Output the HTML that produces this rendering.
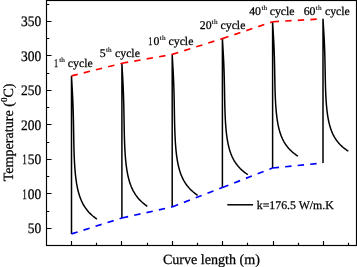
<!DOCTYPE html>
<html><head><meta charset="utf-8"><style>
html,body{margin:0;padding:0;background:#fff;width:357px;height:267px;overflow:hidden}
svg{display:block;will-change:transform}
text{font-family:"Liberation Serif",serif;fill:#000;stroke:#000;stroke-width:0.25px;text-rendering:geometricPrecision}
.t{font-size:14.5px}
.c{font-size:11.8px}
.s{font-size:6.6px;stroke-width:0.12px}
.a{font-size:14.1px}
.s2{font-size:9px}
</style></head><body>
<svg width="357" height="267" viewBox="0 0 357 267">
<rect x="46.5" y="0.5" width="310" height="245" fill="none" stroke="#000" stroke-width="1.15"/>
<path d="M46.5 228.50h5.0 M46.5 211.50h2.8 M46.5 193.50h5.0 M46.5 176.50h2.8 M46.5 159.50h5.0 M46.5 142.50h2.8 M46.5 124.50h5.0 M46.5 107.50h2.8 M46.5 90.50h5.0 M46.5 73.50h2.8 M46.5 55.50h5.0 M46.5 38.50h2.8 M46.5 21.50h5.0 M46.5 4.50h2.8 M71.50 245.5v-4.6 M96.50 245.5v-2.8 M121.50 245.5v-4.6 M147.50 245.5v-2.8 M172.50 245.5v-4.6 M197.50 245.5v-2.8 M222.50 245.5v-4.6 M247.50 245.5v-2.8 M273.50 245.5v-4.6 M298.50 245.5v-2.8 M323.50 245.5v-4.6 M348.50 245.5v-2.8" stroke="#000" stroke-width="1.15" fill="none"/>
<text transform="translate(41.3 233.25) scale(0.93 1)" text-anchor="end" class="t">50</text>
<text transform="translate(41.3 198.75) scale(0.93 1)" text-anchor="end" class="t">00</text>
<text transform="translate(24.64 198.75) scale(0.632 1) translate(-3.840 0)" class="t">1</text>
<text transform="translate(41.3 164.25) scale(0.93 1)" text-anchor="end" class="t">50</text>
<text transform="translate(24.64 164.25) scale(0.632 1) translate(-3.840 0)" class="t">1</text>
<text transform="translate(41.3 129.75) scale(0.93 1)" text-anchor="end" class="t">200</text>
<text transform="translate(41.3 95.25) scale(0.93 1)" text-anchor="end" class="t">250</text>
<text transform="translate(41.3 60.75) scale(0.93 1)" text-anchor="end" class="t">300</text>
<text transform="translate(41.3 26.25) scale(0.93 1)" text-anchor="end" class="t">350</text>
<path d="M71.50 233.90V75.90 M71.50 75.90 L71.54 76.62 L71.58 77.33 L71.61 78.05 L71.65 78.76 L71.69 79.48 L71.73 80.20 L71.77 80.91 L71.81 81.63 L71.85 82.34 L71.89 83.06 L71.93 83.78 L71.97 84.49 L72.01 85.21 L72.05 85.92 L72.09 86.64 L72.13 87.36 L72.17 88.07 L72.21 88.79 L72.25 89.50 L72.29 90.22 L72.33 90.94 L72.37 91.65 L72.41 92.37 L72.44 93.08 L72.48 93.80 L72.52 94.52 L72.55 95.23 L72.59 95.95 L72.62 96.66 L72.66 97.38 L72.69 98.10 L72.72 98.81 L72.76 99.53 L72.79 100.24 L72.82 100.96 L72.85 101.68 L72.88 102.39 L72.91 103.11 L72.94 103.82 L72.97 104.54 L73.00 105.26 L73.02 105.97 L73.05 106.69 L73.07 107.40 L73.10 108.12 L73.12 108.84 L73.15 109.55 L73.17 110.27 L73.19 110.98 L73.21 111.70 L73.23 112.42 L73.26 113.13 L73.27 113.85 L73.29 114.56 L73.31 115.28 L73.33 116.00 L73.35 116.71 L73.37 117.43 L73.38 118.14 L73.40 118.86 L73.41 119.58 L73.43 120.29 L73.44 121.01 L73.46 121.72 L73.47 122.44 L73.49 123.16 L73.50 123.87 L73.51 124.59 L73.53 125.30 L73.54 126.02 L73.55 126.74 L73.56 127.45 L73.58 128.17 L73.59 128.88 L73.60 129.60 L73.61 130.32 L73.62 131.03 L73.64 131.75 L73.65 132.46 L73.66 133.18 L73.67 133.90 L73.68 134.61 L73.70 135.33 L73.71 136.04 L73.72 136.76 L73.73 137.48 L73.74 138.19 L73.76 138.91 L73.77 139.62 L73.78 140.34 L73.80 141.06 L73.81 141.77 L73.83 142.49 L73.84 143.20 L73.86 143.92 L73.87 144.64 L73.89 145.35 L73.91 146.07 L73.92 146.78 L73.94 147.50 L73.96 148.22 L73.98 148.93 L74.00 149.65 L74.02 150.36 L74.04 151.08 L74.06 151.80 L74.08 152.51 L74.11 153.23 L74.13 153.94 L74.16 154.66 L74.18 155.38 L74.21 156.09 L74.24 156.81 L74.27 157.52 L74.30 158.24 L74.33 158.96 L74.37 159.67 L74.40 160.39 L74.44 161.10 L74.47 161.82 L74.51 162.54 L74.55 163.25 L74.59 163.97 L74.64 164.68 L74.68 165.40 L74.73 166.12 L74.78 166.83 L74.83 167.55 L74.88 168.26 L74.93 168.98 L74.99 169.70 L75.05 170.41 L75.11 171.13 L75.17 171.84 L75.23 172.56 L75.30 173.28 L75.37 173.99 L75.44 174.71 L75.52 175.42 L75.60 176.14 L75.68 176.86 L75.76 177.57 L75.85 178.29 L75.94 179.00 L76.04 179.72 L76.14 180.44 L76.24 181.15 L76.35 181.87 L76.46 182.58 L76.57 183.30 L76.69 184.02 L76.82 184.73 L76.95 185.45 L77.08 186.16 L77.22 186.88 L77.37 187.60 L77.52 188.31 L77.68 189.03 L77.84 189.74 L78.01 190.46 L78.19 191.18 L78.38 191.89 L78.57 192.61 L78.77 193.32 L78.98 194.04 L79.20 194.76 L79.43 195.47 L79.67 196.19 L79.91 196.90 L80.17 197.62 L80.44 198.34 L80.72 199.05 L81.02 199.77 L81.32 200.48 L81.64 201.20 L81.98 201.92 L82.33 202.63 L82.69 203.35 L83.07 204.06 L83.47 204.78 L83.89 205.50 L84.32 206.21 L84.78 206.93 L85.26 207.64 L85.76 208.36 L86.28 209.08 L86.83 209.79 L87.40 210.51 L88.00 211.22 L88.63 211.94 L89.29 212.66 L89.98 213.37 L90.71 214.09 L91.47 214.80 L92.27 215.52 L93.11 216.24 L93.99 216.95 L94.91 217.67 L95.88 218.38 L96.90 219.10 M121.90 218.00V63.30 M121.90 63.30 L121.94 64.02 L121.98 64.73 L122.01 65.44 L122.05 66.16 L122.09 66.88 L122.13 67.59 L122.17 68.30 L122.21 69.02 L122.25 69.73 L122.29 70.45 L122.33 71.16 L122.37 71.88 L122.41 72.59 L122.45 73.31 L122.49 74.02 L122.53 74.74 L122.57 75.45 L122.61 76.17 L122.65 76.88 L122.69 77.60 L122.73 78.31 L122.77 79.03 L122.81 79.75 L122.84 80.46 L122.88 81.17 L122.92 81.89 L122.95 82.60 L122.99 83.32 L123.02 84.03 L123.06 84.75 L123.09 85.47 L123.12 86.18 L123.16 86.89 L123.19 87.61 L123.22 88.32 L123.25 89.04 L123.28 89.75 L123.31 90.47 L123.34 91.19 L123.37 91.90 L123.40 92.61 L123.42 93.33 L123.45 94.05 L123.47 94.76 L123.50 95.47 L123.52 96.19 L123.55 96.91 L123.57 97.62 L123.59 98.33 L123.61 99.05 L123.63 99.77 L123.66 100.48 L123.67 101.19 L123.69 101.91 L123.71 102.62 L123.73 103.34 L123.75 104.05 L123.77 104.77 L123.78 105.48 L123.80 106.20 L123.81 106.91 L123.83 107.63 L123.84 108.34 L123.86 109.06 L123.87 109.78 L123.89 110.49 L123.90 111.20 L123.91 111.92 L123.93 112.63 L123.94 113.35 L123.95 114.06 L123.96 114.78 L123.98 115.50 L123.99 116.21 L124.00 116.92 L124.01 117.64 L124.02 118.35 L124.04 119.07 L124.05 119.78 L124.06 120.50 L124.07 121.22 L124.08 121.93 L124.10 122.64 L124.11 123.36 L124.12 124.07 L124.13 124.79 L124.14 125.50 L124.16 126.22 L124.17 126.94 L124.18 127.65 L124.20 128.37 L124.21 129.08 L124.23 129.80 L124.24 130.51 L124.26 131.22 L124.27 131.94 L124.29 132.66 L124.31 133.37 L124.32 134.08 L124.34 134.80 L124.36 135.51 L124.38 136.23 L124.40 136.94 L124.42 137.66 L124.44 138.38 L124.46 139.09 L124.48 139.81 L124.51 140.52 L124.53 141.24 L124.56 141.95 L124.58 142.67 L124.61 143.38 L124.64 144.09 L124.67 144.81 L124.70 145.52 L124.73 146.24 L124.77 146.95 L124.80 147.67 L124.84 148.38 L124.87 149.10 L124.91 149.81 L124.95 150.53 L124.99 151.25 L125.04 151.96 L125.08 152.68 L125.13 153.39 L125.18 154.11 L125.23 154.82 L125.28 155.53 L125.33 156.25 L125.39 156.97 L125.45 157.68 L125.51 158.39 L125.57 159.11 L125.63 159.82 L125.70 160.54 L125.77 161.25 L125.84 161.97 L125.92 162.69 L126.00 163.40 L126.08 164.12 L126.16 164.83 L126.25 165.54 L126.34 166.26 L126.44 166.97 L126.54 167.69 L126.64 168.41 L126.75 169.12 L126.86 169.83 L126.97 170.55 L127.09 171.26 L127.22 171.98 L127.35 172.69 L127.48 173.41 L127.62 174.12 L127.77 174.84 L127.92 175.56 L128.08 176.27 L128.24 176.99 L128.41 177.70 L128.59 178.42 L128.78 179.13 L128.97 179.84 L129.17 180.56 L129.38 181.27 L129.60 181.99 L129.83 182.70 L130.07 183.42 L130.31 184.13 L130.57 184.85 L130.84 185.56 L131.12 186.28 L131.42 187.00 L131.72 187.71 L132.04 188.43 L132.38 189.14 L132.73 189.86 L133.09 190.57 L133.47 191.28 L133.87 192.00 L134.29 192.71 L134.72 193.43 L135.18 194.14 L135.66 194.86 L136.16 195.57 L136.68 196.29 L137.23 197.00 L137.80 197.72 L138.40 198.44 L139.03 199.15 L139.69 199.87 L140.38 200.58 L141.11 201.30 L141.87 202.01 L142.67 202.72 L143.51 203.44 L144.39 204.15 L145.31 204.87 L146.28 205.58 L147.30 206.30 M172.20 206.90V54.40 M172.20 54.40 L172.24 55.10 L172.28 55.81 L172.31 56.51 L172.35 57.22 L172.39 57.92 L172.43 58.63 L172.47 59.33 L172.51 60.04 L172.55 60.74 L172.59 61.45 L172.63 62.15 L172.67 62.85 L172.71 63.56 L172.75 64.26 L172.79 64.97 L172.83 65.67 L172.87 66.38 L172.91 67.08 L172.95 67.79 L172.99 68.49 L173.03 69.19 L173.07 69.90 L173.11 70.60 L173.14 71.31 L173.18 72.01 L173.22 72.72 L173.25 73.42 L173.29 74.13 L173.32 74.83 L173.36 75.53 L173.39 76.24 L173.42 76.94 L173.46 77.65 L173.49 78.35 L173.52 79.06 L173.55 79.76 L173.58 80.47 L173.61 81.17 L173.64 81.88 L173.67 82.58 L173.70 83.28 L173.72 83.99 L173.75 84.69 L173.77 85.40 L173.80 86.10 L173.82 86.81 L173.85 87.51 L173.87 88.22 L173.89 88.92 L173.91 89.62 L173.93 90.33 L173.96 91.03 L173.97 91.74 L173.99 92.44 L174.01 93.15 L174.03 93.85 L174.05 94.56 L174.07 95.26 L174.08 95.97 L174.10 96.67 L174.11 97.37 L174.13 98.08 L174.14 98.78 L174.16 99.49 L174.17 100.19 L174.19 100.90 L174.20 101.60 L174.21 102.31 L174.23 103.01 L174.24 103.72 L174.25 104.42 L174.26 105.12 L174.28 105.83 L174.29 106.53 L174.30 107.24 L174.31 107.94 L174.32 108.65 L174.34 109.35 L174.35 110.06 L174.36 110.76 L174.37 111.46 L174.38 112.17 L174.40 112.87 L174.41 113.58 L174.42 114.28 L174.43 114.99 L174.44 115.69 L174.46 116.40 L174.47 117.10 L174.48 117.81 L174.50 118.51 L174.51 119.21 L174.53 119.92 L174.54 120.62 L174.56 121.33 L174.57 122.03 L174.59 122.74 L174.61 123.44 L174.62 124.15 L174.64 124.85 L174.66 125.55 L174.68 126.26 L174.70 126.96 L174.72 127.67 L174.74 128.37 L174.76 129.08 L174.78 129.78 L174.81 130.49 L174.83 131.19 L174.86 131.90 L174.88 132.60 L174.91 133.30 L174.94 134.01 L174.97 134.71 L175.00 135.42 L175.03 136.12 L175.07 136.83 L175.10 137.53 L175.14 138.24 L175.17 138.94 L175.21 139.64 L175.25 140.35 L175.29 141.05 L175.34 141.76 L175.38 142.46 L175.43 143.17 L175.48 143.87 L175.53 144.58 L175.58 145.28 L175.63 145.99 L175.69 146.69 L175.75 147.39 L175.81 148.10 L175.87 148.80 L175.93 149.51 L176.00 150.21 L176.07 150.92 L176.14 151.62 L176.22 152.33 L176.30 153.03 L176.38 153.73 L176.46 154.44 L176.55 155.14 L176.64 155.85 L176.74 156.55 L176.84 157.26 L176.94 157.96 L177.05 158.67 L177.16 159.37 L177.27 160.08 L177.39 160.78 L177.52 161.48 L177.65 162.19 L177.78 162.89 L177.92 163.60 L178.07 164.30 L178.22 165.01 L178.38 165.71 L178.54 166.42 L178.71 167.12 L178.89 167.82 L179.08 168.53 L179.27 169.23 L179.47 169.94 L179.68 170.64 L179.90 171.35 L180.13 172.05 L180.37 172.76 L180.61 173.46 L180.87 174.16 L181.14 174.87 L181.42 175.57 L181.72 176.28 L182.02 176.98 L182.34 177.69 L182.68 178.39 L183.03 179.10 L183.39 179.80 L183.77 180.51 L184.17 181.21 L184.59 181.91 L185.02 182.62 L185.48 183.32 L185.96 184.03 L186.46 184.73 L186.98 185.44 L187.53 186.14 L188.10 186.85 L188.70 187.55 L189.33 188.25 L189.99 188.96 L190.68 189.66 L191.41 190.37 L192.17 191.07 L192.97 191.78 L193.81 192.48 L194.69 193.19 L195.61 193.89 L196.58 194.60 L197.60 195.30 M222.40 187.50V38.60 M222.40 38.60 L222.44 39.28 L222.48 39.96 L222.51 40.64 L222.55 41.32 L222.59 42.00 L222.63 42.68 L222.67 43.36 L222.71 44.04 L222.75 44.72 L222.79 45.40 L222.83 46.08 L222.87 46.76 L222.91 47.44 L222.95 48.12 L222.99 48.80 L223.03 49.48 L223.07 50.16 L223.11 50.84 L223.15 51.52 L223.19 52.20 L223.23 52.88 L223.27 53.56 L223.31 54.24 L223.34 54.92 L223.38 55.60 L223.42 56.28 L223.45 56.96 L223.49 57.64 L223.52 58.32 L223.56 59.00 L223.59 59.68 L223.62 60.36 L223.66 61.04 L223.69 61.72 L223.72 62.40 L223.75 63.08 L223.78 63.76 L223.81 64.44 L223.84 65.12 L223.87 65.80 L223.90 66.48 L223.92 67.16 L223.95 67.84 L223.97 68.52 L224.00 69.20 L224.02 69.88 L224.05 70.56 L224.07 71.24 L224.09 71.92 L224.11 72.60 L224.13 73.28 L224.16 73.96 L224.17 74.64 L224.19 75.32 L224.21 76.00 L224.23 76.68 L224.25 77.36 L224.27 78.04 L224.28 78.72 L224.30 79.40 L224.31 80.08 L224.33 80.76 L224.34 81.44 L224.36 82.12 L224.37 82.80 L224.39 83.48 L224.40 84.16 L224.41 84.84 L224.43 85.52 L224.44 86.20 L224.45 86.88 L224.46 87.56 L224.48 88.24 L224.49 88.92 L224.50 89.60 L224.51 90.28 L224.52 90.96 L224.54 91.64 L224.55 92.32 L224.56 93.00 L224.57 93.68 L224.58 94.36 L224.60 95.04 L224.61 95.72 L224.62 96.40 L224.63 97.08 L224.64 97.76 L224.66 98.44 L224.67 99.12 L224.68 99.80 L224.70 100.48 L224.71 101.16 L224.73 101.84 L224.74 102.52 L224.76 103.20 L224.77 103.88 L224.79 104.56 L224.81 105.24 L224.82 105.92 L224.84 106.60 L224.86 107.28 L224.88 107.96 L224.90 108.64 L224.92 109.32 L224.94 110.00 L224.96 110.68 L224.98 111.36 L225.01 112.04 L225.03 112.72 L225.06 113.40 L225.08 114.08 L225.11 114.76 L225.14 115.44 L225.17 116.12 L225.20 116.80 L225.23 117.48 L225.27 118.16 L225.30 118.84 L225.34 119.52 L225.37 120.20 L225.41 120.88 L225.45 121.56 L225.49 122.24 L225.54 122.92 L225.58 123.60 L225.63 124.28 L225.68 124.96 L225.73 125.64 L225.78 126.32 L225.83 127.00 L225.89 127.68 L225.95 128.36 L226.01 129.04 L226.07 129.72 L226.13 130.40 L226.20 131.08 L226.27 131.76 L226.34 132.44 L226.42 133.12 L226.50 133.80 L226.58 134.48 L226.66 135.16 L226.75 135.84 L226.84 136.52 L226.94 137.20 L227.04 137.88 L227.14 138.56 L227.25 139.24 L227.36 139.92 L227.47 140.60 L227.59 141.28 L227.72 141.96 L227.85 142.64 L227.98 143.32 L228.12 144.00 L228.27 144.68 L228.42 145.36 L228.58 146.04 L228.74 146.72 L228.91 147.40 L229.09 148.08 L229.28 148.76 L229.47 149.44 L229.67 150.12 L229.88 150.80 L230.10 151.48 L230.33 152.16 L230.57 152.84 L230.81 153.52 L231.07 154.20 L231.34 154.88 L231.62 155.56 L231.92 156.24 L232.22 156.92 L232.54 157.60 L232.88 158.28 L233.23 158.96 L233.59 159.64 L233.97 160.32 L234.37 161.00 L234.79 161.68 L235.22 162.36 L235.68 163.04 L236.16 163.72 L236.66 164.40 L237.18 165.08 L237.73 165.76 L238.30 166.44 L238.90 167.12 L239.53 167.80 L240.19 168.48 L240.88 169.16 L241.61 169.84 L242.37 170.52 L243.17 171.20 L244.01 171.88 L244.89 172.56 L245.81 173.24 L246.78 173.92 L247.80 174.60 M272.60 168.00V21.80 M272.60 21.80 L272.64 22.47 L272.68 23.14 L272.71 23.82 L272.75 24.49 L272.79 25.16 L272.83 25.83 L272.87 26.50 L272.91 27.18 L272.95 27.85 L272.99 28.52 L273.03 29.19 L273.07 29.86 L273.11 30.54 L273.15 31.21 L273.19 31.88 L273.23 32.55 L273.27 33.22 L273.31 33.90 L273.35 34.57 L273.39 35.24 L273.43 35.91 L273.47 36.58 L273.51 37.26 L273.54 37.93 L273.58 38.60 L273.62 39.27 L273.65 39.94 L273.69 40.62 L273.72 41.29 L273.76 41.96 L273.79 42.63 L273.82 43.30 L273.86 43.98 L273.89 44.65 L273.92 45.32 L273.95 45.99 L273.98 46.66 L274.01 47.34 L274.04 48.01 L274.07 48.68 L274.10 49.35 L274.12 50.02 L274.15 50.70 L274.17 51.37 L274.20 52.04 L274.22 52.71 L274.25 53.38 L274.27 54.06 L274.29 54.73 L274.31 55.40 L274.33 56.07 L274.36 56.74 L274.37 57.42 L274.39 58.09 L274.41 58.76 L274.43 59.43 L274.45 60.10 L274.47 60.78 L274.48 61.45 L274.50 62.12 L274.51 62.79 L274.53 63.46 L274.54 64.14 L274.56 64.81 L274.57 65.48 L274.59 66.15 L274.60 66.82 L274.61 67.50 L274.63 68.17 L274.64 68.84 L274.65 69.51 L274.66 70.18 L274.68 70.86 L274.69 71.53 L274.70 72.20 L274.71 72.87 L274.72 73.54 L274.74 74.22 L274.75 74.89 L274.76 75.56 L274.77 76.23 L274.78 76.90 L274.80 77.58 L274.81 78.25 L274.82 78.92 L274.83 79.59 L274.84 80.26 L274.86 80.94 L274.87 81.61 L274.88 82.28 L274.90 82.95 L274.91 83.62 L274.93 84.30 L274.94 84.97 L274.96 85.64 L274.97 86.31 L274.99 86.98 L275.01 87.66 L275.02 88.33 L275.04 89.00 L275.06 89.67 L275.08 90.34 L275.10 91.02 L275.12 91.69 L275.14 92.36 L275.16 93.03 L275.18 93.70 L275.21 94.38 L275.23 95.05 L275.26 95.72 L275.28 96.39 L275.31 97.06 L275.34 97.74 L275.37 98.41 L275.40 99.08 L275.43 99.75 L275.47 100.42 L275.50 101.10 L275.54 101.77 L275.57 102.44 L275.61 103.11 L275.65 103.78 L275.69 104.46 L275.74 105.13 L275.78 105.80 L275.83 106.47 L275.88 107.14 L275.93 107.82 L275.98 108.49 L276.03 109.16 L276.09 109.83 L276.15 110.50 L276.21 111.18 L276.27 111.85 L276.33 112.52 L276.40 113.19 L276.47 113.86 L276.54 114.54 L276.62 115.21 L276.70 115.88 L276.78 116.55 L276.86 117.22 L276.95 117.90 L277.04 118.57 L277.14 119.24 L277.24 119.91 L277.34 120.58 L277.45 121.26 L277.56 121.93 L277.67 122.60 L277.79 123.27 L277.92 123.94 L278.05 124.62 L278.18 125.29 L278.32 125.96 L278.47 126.63 L278.62 127.30 L278.78 127.98 L278.94 128.65 L279.11 129.32 L279.29 129.99 L279.48 130.66 L279.67 131.34 L279.87 132.01 L280.08 132.68 L280.30 133.35 L280.53 134.02 L280.77 134.70 L281.01 135.37 L281.27 136.04 L281.54 136.71 L281.82 137.38 L282.12 138.06 L282.42 138.73 L282.74 139.40 L283.08 140.07 L283.43 140.74 L283.79 141.42 L284.17 142.09 L284.57 142.76 L284.99 143.43 L285.42 144.10 L285.88 144.78 L286.36 145.45 L286.86 146.12 L287.38 146.79 L287.93 147.46 L288.50 148.14 L289.10 148.81 L289.73 149.48 L290.39 150.15 L291.08 150.82 L291.81 151.50 L292.57 152.17 L293.37 152.84 L294.21 153.51 L295.09 154.18 L296.01 154.86 L296.98 155.53 L298.00 156.20 M323.00 163.00V18.80 M323.00 18.80 L323.04 19.46 L323.08 20.12 L323.11 20.79 L323.15 21.45 L323.19 22.11 L323.23 22.77 L323.27 23.43 L323.31 24.10 L323.35 24.76 L323.39 25.42 L323.43 26.08 L323.47 26.74 L323.51 27.41 L323.55 28.07 L323.59 28.73 L323.63 29.39 L323.67 30.05 L323.71 30.72 L323.75 31.38 L323.79 32.04 L323.83 32.70 L323.87 33.36 L323.91 34.03 L323.94 34.69 L323.98 35.35 L324.02 36.01 L324.05 36.67 L324.09 37.34 L324.12 38.00 L324.16 38.66 L324.19 39.32 L324.22 39.98 L324.26 40.65 L324.29 41.31 L324.32 41.97 L324.35 42.63 L324.38 43.29 L324.41 43.96 L324.44 44.62 L324.47 45.28 L324.50 45.94 L324.52 46.60 L324.55 47.27 L324.57 47.93 L324.60 48.59 L324.62 49.25 L324.65 49.91 L324.67 50.58 L324.69 51.24 L324.71 51.90 L324.73 52.56 L324.76 53.22 L324.77 53.89 L324.79 54.55 L324.81 55.21 L324.83 55.87 L324.85 56.53 L324.87 57.20 L324.88 57.86 L324.90 58.52 L324.91 59.18 L324.93 59.84 L324.94 60.51 L324.96 61.17 L324.97 61.83 L324.99 62.49 L325.00 63.15 L325.01 63.82 L325.03 64.48 L325.04 65.14 L325.05 65.80 L325.06 66.46 L325.08 67.13 L325.09 67.79 L325.10 68.45 L325.11 69.11 L325.12 69.77 L325.14 70.44 L325.15 71.10 L325.16 71.76 L325.17 72.42 L325.18 73.08 L325.20 73.75 L325.21 74.41 L325.22 75.07 L325.23 75.73 L325.24 76.39 L325.26 77.06 L325.27 77.72 L325.28 78.38 L325.30 79.04 L325.31 79.70 L325.33 80.37 L325.34 81.03 L325.36 81.69 L325.37 82.35 L325.39 83.01 L325.41 83.68 L325.42 84.34 L325.44 85.00 L325.46 85.66 L325.48 86.32 L325.50 86.99 L325.52 87.65 L325.54 88.31 L325.56 88.97 L325.58 89.63 L325.61 90.30 L325.63 90.96 L325.66 91.62 L325.68 92.28 L325.71 92.94 L325.74 93.61 L325.77 94.27 L325.80 94.93 L325.83 95.59 L325.87 96.25 L325.90 96.92 L325.94 97.58 L325.97 98.24 L326.01 98.90 L326.05 99.56 L326.09 100.23 L326.14 100.89 L326.18 101.55 L326.23 102.21 L326.28 102.87 L326.33 103.54 L326.38 104.20 L326.43 104.86 L326.49 105.52 L326.55 106.18 L326.61 106.85 L326.67 107.51 L326.73 108.17 L326.80 108.83 L326.87 109.49 L326.94 110.16 L327.02 110.82 L327.10 111.48 L327.18 112.14 L327.26 112.80 L327.35 113.47 L327.44 114.13 L327.54 114.79 L327.64 115.45 L327.74 116.11 L327.85 116.78 L327.96 117.44 L328.07 118.10 L328.19 118.76 L328.32 119.42 L328.45 120.09 L328.58 120.75 L328.72 121.41 L328.87 122.07 L329.02 122.73 L329.18 123.40 L329.34 124.06 L329.51 124.72 L329.69 125.38 L329.88 126.04 L330.07 126.71 L330.27 127.37 L330.48 128.03 L330.70 128.69 L330.93 129.35 L331.17 130.02 L331.41 130.68 L331.67 131.34 L331.94 132.00 L332.22 132.66 L332.52 133.33 L332.82 133.99 L333.14 134.65 L333.48 135.31 L333.83 135.97 L334.19 136.64 L334.57 137.30 L334.97 137.96 L335.39 138.62 L335.82 139.28 L336.28 139.95 L336.76 140.61 L337.26 141.27 L337.78 141.93 L338.33 142.59 L338.90 143.26 L339.50 143.92 L340.13 144.58 L340.79 145.24 L341.48 145.90 L342.21 146.57 L342.97 147.23 L343.77 147.89 L344.61 148.55 L345.49 149.21 L346.41 149.88 L347.38 150.54 L348.40 151.20" stroke="#000" stroke-width="1.5" fill="none"/>
<path d="M71.50 75.90L121.90 63.30" stroke="#f00" stroke-width="1.65" fill="none" stroke-dasharray="6.4 6.2"/>
<path d="M121.90 63.30L172.20 54.40" stroke="#f00" stroke-width="1.65" fill="none" stroke-dasharray="6.4 6.2"/>
<path d="M172.20 54.40L222.40 38.60" stroke="#f00" stroke-width="1.65" fill="none" stroke-dasharray="6.4 6.2"/>
<path d="M222.40 38.60L272.60 21.80" stroke="#f00" stroke-width="1.65" fill="none" stroke-dasharray="6.4 6.2"/>
<path d="M272.60 21.80L323.00 18.80" stroke="#f00" stroke-width="1.65" fill="none" stroke-dasharray="6.4 6.2"/>
<path d="M71.50 233.90L121.90 218.00" stroke="#00f" stroke-width="1.65" fill="none" stroke-dasharray="6.4 6.2"/>
<path d="M121.90 218.00L172.20 206.90" stroke="#00f" stroke-width="1.65" fill="none" stroke-dasharray="6.4 6.2"/>
<path d="M172.20 206.90L222.40 187.50" stroke="#00f" stroke-width="1.65" fill="none" stroke-dasharray="6.4 6.2"/>
<path d="M222.40 187.50L272.60 168.00" stroke="#00f" stroke-width="1.65" fill="none" stroke-dasharray="6.4 6.2"/>
<path d="M272.60 168.00L323.00 163.00" stroke="#00f" stroke-width="1.65" fill="none" stroke-dasharray="6.4 6.2"/>
<text transform="translate(53.90 66.60) scale(0.7 1)" class="c">1</text>
<text transform="translate(59.17 61.50) scale(1.1 1)" class="s">th</text>
<text x="67.80" y="66.60" class="c">cycle</text>
<text x="99.85" y="56.60" class="c">5</text>
<text transform="translate(105.97 51.50) scale(1.1 1)" class="s">th</text>
<text x="115.00" y="56.60" class="c">cycle</text>
<text transform="translate(148.30 44.60) scale(0.7 1)" class="c">1</text>
<text x="153.60" y="44.60" class="c">0</text>
<text transform="translate(159.87 39.50) scale(1.1 1)" class="s">th</text>
<text x="168.50" y="44.60" class="c">cycle</text>
<text x="199.80" y="28.60" class="c">20</text>
<text transform="translate(211.87 23.50) scale(1.1 1)" class="s">th</text>
<text x="220.50" y="28.60" class="c">cycle</text>
<text x="249.15" y="15.00" class="c">40</text>
<text transform="translate(261.47 9.90) scale(1.1 1)" class="s">th</text>
<text x="269.70" y="15.00" class="c">cycle</text>
<text x="303.70" y="15.00" class="c">60</text>
<text transform="translate(315.87 9.90) scale(1.1 1)" class="s">th</text>
<text x="324.90" y="15.00" class="c">cycle</text>
<path d="M227.3 204.8H253.1" stroke="#000" stroke-width="1.5"/>
<text x="256.8" y="208.9" class="c">k=176.5 W/m.K</text>
<text x="162.9" y="264.0" class="a">Curve length (m)</text>
<text transform="translate(13.2 181.3) rotate(-90)" class="a">Temperature (<tspan class="s2" dy="-6">0</tspan><tspan dy="6">C)</tspan></text>
</svg></body></html>
